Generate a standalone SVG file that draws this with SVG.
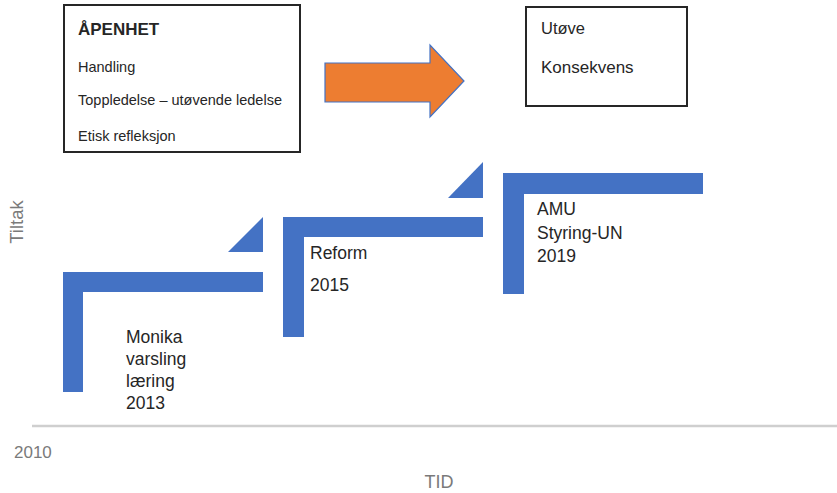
<svg xmlns="http://www.w3.org/2000/svg" width="837" height="493" viewBox="0 0 837 493">
<style>
.box{fill:#fff;stroke:#262626;stroke-width:2}
.t{font-family:"Liberation Sans",Arial,sans-serif;fill:#262626}
.sm{font-size:14.5px}
.lb{font-size:17.5px}
.gr{font-family:"Liberation Sans",Arial,sans-serif;fill:#7a7a7a}
.step{fill:#4472C4}
</style>
<rect width="837" height="493" fill="#fff"/>
<g id="apenhet">
<rect class="box" x="64" y="5" width="236" height="147"/>
<text class="t" x="78" y="35" font-size="17" font-weight="bold">ÅPENHET</text>
<text class="t sm" x="78" y="72">Handling</text>
<text class="t sm" x="78" y="105">Toppledelse – utøvende ledelse</text>
<text class="t sm" x="78" y="141">Etisk refleksjon</text>
</g>
<g id="arrow">
<polygon points="325,63 430,63 430,45 464,81 430,117 430,102 325,102" fill="#ED7D31" stroke="#4472C4" stroke-width="1.2"/>
</g>
<g id="utove">
<rect class="box" x="526" y="7" width="161" height="99"/>
<text class="t" x="541" y="34" font-size="16.5">Utøve</text>
<text class="t" x="541" y="73" font-size="17">Konsekvens</text>
</g>
<g id="step2013">
<polygon class="step" points="63,272 263,272 263,292 83,292 83,392 63,392"/>
<polygon class="step" points="228,252 263,217 263,252"/>
<text class="t lb" x="126" y="343">Monika</text>
<text class="t lb" x="126" y="365">varsling</text>
<text class="t lb" x="126" y="387">læring</text>
<text class="t lb" x="126" y="409">2013</text>
</g>
<g id="step2015">
<polygon class="step" points="283,217 483,217 483,237 304,237 304,337 283,337"/>
<polygon class="step" points="448,198 483,162 483,198"/>
<text class="t lb" x="310" y="259">Reform</text>
<text class="t lb" x="310" y="291">2015</text>
</g>
<g id="step2019">
<polygon class="step" points="503,173 703,173 703,194 524,194 524,294 503,294"/>
<text class="t lb" x="537" y="215">AMU</text>
<text class="t lb" x="537" y="239">Styring-UN</text>
<text class="t lb" x="537" y="262">2019</text>
</g>
<g id="axes">
<line x1="32" y1="426" x2="837" y2="426" stroke="#cfcfcf" stroke-width="2.5"/>
<text class="gr" x="14" y="458" font-size="17">2010</text>
<text class="gr" x="439" y="488" font-size="18" text-anchor="middle">TID</text>
<text class="gr" transform="translate(23,222) rotate(-90)" font-size="18.5" text-anchor="middle">Tiltak</text>
</g>
</svg>
